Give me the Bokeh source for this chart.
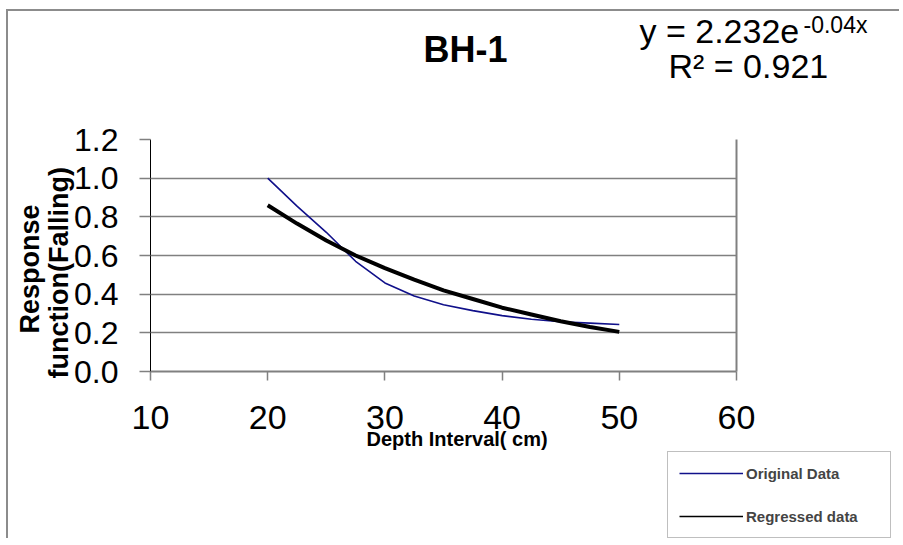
from bokeh.plotting import figure
from bokeh.layouts import column, row
from bokeh.models import (Legend, LegendItem, LinearAxis, FixedTicker, Range1d, Title, Spacer)
from bokeh.embed import file_html
from bokeh.resources import INLINE

# ---- data ----
depth = [20, 22.5, 25, 27.5, 30, 32.5, 35, 37.5, 40, 42.5, 45, 47.5, 50]
original = [1.0, 0.855, 0.72, 0.57, 0.458, 0.39, 0.345, 0.315, 0.289, 0.27, 0.257, 0.25, 0.243]
regressed = [0.86, 0.765, 0.678, 0.60, 0.535, 0.475, 0.42, 0.375, 0.33, 0.295, 0.26, 0.23, 0.205]

x_ticks = [10, 20, 30, 40, 50, 60]
y_ticks = [0.0, 0.2, 0.4, 0.6, 0.8, 1.0, 1.2]
y_tick_labels = ["0.0", "0.2", "0.4", "0.6", "0.8", "1.0", "1.2"]

title_text = "BH-1"
eq_main = "y = 2.232e"
eq_sup = "-0.04x"
r2_text = "R\u00b2 = 0.921"
y_title_1 = "Response"
y_title_2 = "function(Falling)"
x_title = "Depth Interval( cm)"
series_names = ["Original Data", "Regressed data"]

FONT = "Liberation Sans"
GRID = "#808080"
BLUE = "#10108a"
BORDER = "2px solid #8c8c8c"

# ---- layout, in page pixels ----
OX, OY = 8, 11                      # canvas origin on the page (after margin + border)
W, H = 893, 441                     # main chart; the legend strip sits below it
F_LEFT, F_RIGHT, F_TOP, F_BOTTOM = 150 - OX, 736 - OX, 139 - OY, 371 - OY
X0, X1, Y0, Y1 = 10, 60, 0, 1.2


def th(size):                       # approx. text box height used by Bokeh
    return 1.12 * size


p = figure(width=W, height=H, output_backend="svg", toolbar_location=None,
           x_range=Range1d(X0, X1), y_range=Range1d(Y0, Y1),
           min_border_left=F_LEFT, min_border_right=W - F_RIGHT,
           min_border_top=F_TOP, min_border_bottom=H - F_BOTTOM)
p.margin = (9, 0, 0, 6)
p.styles = {"border-left": BORDER, "border-top": BORDER}
p.outline_line_color = None
p.background_fill_color = "white"
p.border_fill_color = "white"

# ---- axes ----
p.xaxis.ticker = FixedTicker(ticks=x_ticks)
p.yaxis.ticker = FixedTicker(ticks=y_ticks)
p.yaxis.major_label_overrides = {t: s for t, s in zip(y_ticks, y_tick_labels)}
p.xaxis.minor_tick_line_color = None
p.yaxis.minor_tick_line_color = None
for ax in (p.xaxis, p.yaxis):
    ax.major_label_text_font = FONT
    ax.major_label_text_color = "black"
    ax.major_tick_in = 0
    ax.major_tick_line_color = GRID
    ax.major_tick_line_width = 1.5
p.xaxis.major_label_text_font_size = "34px"
p.yaxis.major_label_text_font_size = "32px"
p.xaxis.major_tick_out = 9
p.yaxis.major_tick_out = 11
p.xaxis.axis_line_color = GRID
p.xaxis.axis_line_width = 2
p.yaxis.axis_line_color = "black"
p.yaxis.axis_line_width = 1
p.xaxis.major_label_standoff = 25
p.yaxis.major_label_standoff = 21

p.xgrid.grid_line_color = None
p.ygrid.ticker = FixedTicker(ticks=y_ticks)
p.ygrid.grid_line_color = GRID
p.ygrid.grid_line_width = 1.5

right_axis = LinearAxis(ticker=FixedTicker(ticks=[]), axis_line_color=GRID,
                        axis_line_width=2, major_label_text_font_size="0px",
                        major_label_standoff=0, axis_label_standoff=0,
                        minor_tick_line_color=None, major_tick_line_color=None)
p.add_layout(right_axis, "right")

# ---- series ----
r_orig = p.line(depth, original, line_color=BLUE, line_width=1.6)
r_reg = p.line(depth, regressed, line_color="black", line_width=4)


def title(text, size, bold=False, align="left", offset=0, standoff=0, valign="bottom"):
    return Title(text=text, align=align, offset=offset, standoff=standoff,
                 vertical_align=valign, text_font=FONT, text_font_size=f"{size}px",
                 text_font_style="bold" if bold else "normal", text_color="black")


# ---- y axis titles (left panel, outward from the axis) ----
p.add_layout(title(y_title_2, 27, bold=True, offset=F_BOTTOM - (378 - OY), standoff=-5), "left")
p.add_layout(title(y_title_1, 27, bold=True, offset=F_BOTTOM - (333 - OY), standoff=0), "left")

# ---- texts above the frame: invisible spacer axis, then titles stacked outward ----
spacer = 72
p.add_layout(LinearAxis(ticker=FixedTicker(ticks=x_ticks), axis_line_color=None,
                        major_tick_out=spacer, major_tick_in=0, major_tick_line_alpha=0,
                        minor_tick_line_color=None, major_label_standoff=0,
                        major_label_overrides={t: "" for t in x_ticks},
                        axis_label_standoff=0, major_label_text_font_size="0px"), "above")
# (text, size, bold, left x on page, text-box bottom on page)
above_specs = [
    (r2_text, 34, False, 668, 84),
    (title_text, 36, True, 423, 69),
    (eq_main, 34, False, 639, 50),
    (eq_sup, 23, False, 803, 38),
]
bottom = F_TOP - spacer
for text, size, bold, left, tbottom in above_specs:
    s = round(2 * (bottom - (tbottom - OY)))
    s = max(s, -round(th(size)))          # keep every panel height positive
    p.add_layout(title(text, size, bold=bold, offset=(left - OX) - F_LEFT, standoff=s), "above")
    bottom -= 2 + th(size) + s

# ---- x axis title (below panel) ----
p.add_layout(title(x_title, 20, bold=True, offset=(366 - OX) - F_LEFT, standoff=-12,
                   valign="bottom"), "below")

# ---- legend strip under the chart ----
LEG_W, LEG_H = 225, 88
lf = figure(width=LEG_W, height=LEG_H, output_backend="svg", toolbar_location=None,
            x_axis_type=None, y_axis_type=None, x_range=Range1d(0, 1), y_range=Range1d(0, 1),
            min_border=0)
lf.outline_line_color = None
lf.grid.grid_line_color = None
lf.background_fill_color = None
lf.border_fill_color = None
# legend keys (same series, drawn outside this strip's view; only their swatches show)
k_orig = lf.line(depth, original, line_color=BLUE, line_width=1.6)
k_reg = lf.line(depth, regressed, line_color="black", line_width=1.6)
legend = Legend(items=[LegendItem(label=series_names[0], renderers=[k_orig]),
                       LegendItem(label=series_names[1], renderers=[k_reg])],
                location="top_left", margin=1, padding=11, spacing=23,
                glyph_width=64, glyph_height=20, label_height=20, label_width=133,
                label_standoff=3, label_text_font=FONT,
                label_text_font_size="15px", label_text_font_style="bold",
                border_line_color=GRID, border_line_width=1.5,
                background_fill_color="white")
lf.add_layout(legend)

strip = row(Spacer(width=(667 - OX) - 1, height=LEG_H), lf,
            margin=(0, 0, 0, 6), styles={"border-left": BORDER})
layout = column(p, strip)

open("out.html", "w").write(file_html(layout, INLINE))
